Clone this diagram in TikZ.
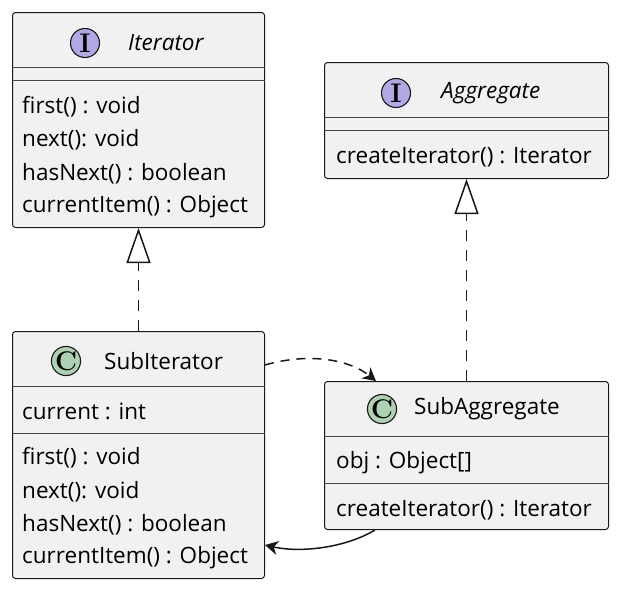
\documentclass[tikz,border=0pt]{standalone}
\usepackage{fontspec}
\newfontfamily\umlfont{Open Sans}
\usetikzlibrary{arrows.meta, positioning}

\definecolor{boxfill}{HTML}{F1F1F1}
\definecolor{boxline}{HTML}{181818}
\definecolor{ifacefill}{HTML}{B4A7E5}
\definecolor{classfill}{HTML}{ADD1B2}

\begin{document}
\begin{tikzpicture}[
    x=1pt, y=-1pt,
    classbox/.style={rectangle, draw=boxline, fill=boxfill, line width=1pt, rounded corners=3pt, anchor=north west, inner sep=0pt},
    badge/.style={circle, draw=boxline, line width=1.1pt, minimum size=29pt, inner sep=0pt, font=\fontsize{27}{27}\selectfont\bfseries},
    title/.style={anchor=west, inner sep=0pt, font=\umlfont\fontsize{22.5}{22.5}\selectfont},
    member/.style={anchor=west, inner sep=0pt, font=\umlfont\fontsize{22.5}{22.5}\selectfont},
    sepline/.style={draw=boxline!80, line width=0.9pt},
    realize/.style={draw=boxline, line width=1.5pt, dash pattern=on 11pt off 9pt, -{Triangle[open, length=35pt, width=24pt, fill=white]}},
    link/.style={draw=boxline, line width=1.5pt, -{Stealth[length=13pt, width=14pt, inset=4pt]}}
]
    \useasboundingbox (0,0) rectangle (620,590);

    % Iterator
    \node (iter) [classbox, minimum width=252pt, minimum height=215pt] at (12,12) {};
    \node (iterbadge) [badge, fill=ifacefill] at (85,43) {I};
    \node (itertitle) [title, font=\umlfont\fontsize{22.5}{22.5}\selectfont\itshape] at (128,43) {Iterator};
    \draw [sepline] ([yshift=-55pt]iter.north west) -- ([yshift=-55pt]iter.north east);
    \draw [sepline] ([yshift=-68pt]iter.north west) -- ([yshift=-68pt]iter.north east);
    \node (iterm1) [member] at (22,107) {first() : void};
    \node (iterm2) [member] at (22,140) {next(): void};
    \node (iterm3) [member] at (22,174) {hasNext() : boolean};
    \node (iterm4) [member] at (22,207) {currentItem() : Object};

    % Aggregate
    \node (agg) [classbox, minimum width=284pt, minimum height=116pt] at (324,62) {};
    \node (aggbadge) [badge, fill=ifacefill] at (396,93) {I};
    \node (aggtitle) [title, font=\umlfont\fontsize{22.5}{22.5}\selectfont\itshape] at (441,93) {Aggregate};
    \draw [sepline] ([yshift=-55pt]agg.north west) -- ([yshift=-55pt]agg.north east);
    \draw [sepline] ([yshift=-68pt]agg.north west) -- ([yshift=-68pt]agg.north east);
    \node (aggm1) [member] at (336,157) {createIterator() : Iterator};

    % SubIterator
    \node (subiter) [classbox, minimum width=252pt, minimum height=247pt] at (12,331) {};
    \node (subiterbadge) [badge, fill=classfill] at (66,361) {C};
    \node (subitertitle) [title] at (104,361) {SubIterator};
    \draw [sepline] ([yshift=-55pt]subiter.north west) -- ([yshift=-55pt]subiter.north east);
    \draw [sepline] ([yshift=-102pt]subiter.north west) -- ([yshift=-102pt]subiter.north east);
    \node (subiterf1) [member] at (22,411) {current : int};
    \node (subiterm1) [member] at (22,458) {first() : void};
    \node (subiterm2) [member] at (22,492) {next(): void};
    \node (subiterm3) [member] at (22,525) {hasNext() : boolean};
    \node (subiterm4) [member] at (22,558) {currentItem() : Object};

    % SubAggregate
    \node (subagg) [classbox, minimum width=284pt, minimum height=148pt] at (324,381) {};
    \node (subaggbadge) [badge, fill=classfill] at (382,409) {C};
    \node (subaggtitle) [title] at (414,409) {SubAggregate};
    \draw [sepline] ([yshift=-55pt]subagg.north west) -- ([yshift=-55pt]subagg.north east);
    \draw [sepline] ([yshift=-102pt]subagg.north west) -- ([yshift=-102pt]subagg.north east);
    \node (subaggf1) [member] at (336,463) {obj : Object[]};
    \node (subaggm1) [member] at (336,510) {createIterator() : Iterator};

    % Arrows
    \draw [realize] (subiter.north) -- (iter.south);
    \draw [realize] (subagg.north) -- (subagg.north |- agg.south);
    \draw [link, dash pattern=on 9pt off 7pt] ([yshift=-34pt]subiter.north east) .. controls (310,352) and (350,360) .. ([xshift=52pt]subagg.north west);
    \draw [link] ([xshift=51pt]subagg.south west) .. controls (345,548) and (300,553) .. ([yshift=34pt]subiter.south east);

\end{tikzpicture}
\end{document}
